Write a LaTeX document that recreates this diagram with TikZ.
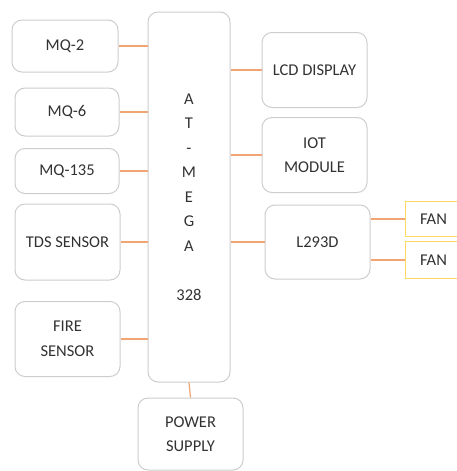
\documentclass[tikz,border=0pt]{standalone}
\usepackage{fontspec}
\setmainfont{Carlito}
\usepackage{xcolor}
\usepackage{tikz}
\usetikzlibrary{positioning}
\definecolor{boxgray}{RGB}{205, 205, 205}
\definecolor{wireorange}{RGB}{240, 165, 115}
\definecolor{fanyellow}{RGB}{255, 217, 102}
\definecolor{textgray}{RGB}{50, 50, 50}

\begin{document}
\begin{tikzpicture}[x=1pt, y=1pt,
  box/.style={draw=boxgray, line width=1pt, rounded corners=10pt, text=textgray, align=center, inner sep=0pt},
  fanbox/.style={draw=fanyellow, line width=1pt, text=textgray, inner sep=0pt},
  wire/.style={draw=wireorange, line width=1.2pt}]
  \useasboundingbox (0,0) rectangle (457,-471);
  \fontsize{16.5}{24.5}\selectfont

  % Sensores
  \node[box, minimum width=106pt, minimum height=52pt] (mq2) at (65,-46) {MQ-2};
  \node[box, minimum width=104pt, minimum height=48pt] (mq6) at (67,-112) {MQ-6};
  \node[box, minimum width=104pt, minimum height=45pt] (mq135) at (67,-171) {MQ-135};
  \node[box, minimum width=105pt, minimum height=76pt] (tds) at (67.5,-242) {TDS SENSOR};
  \node[box, minimum width=105pt, minimum height=75pt] (fire) at (67.5,-339) {FIRE\\SENSOR};

  % Microcontrolador y alimentacion
  \node[box, minimum width=82pt, minimum height=370pt] (mcu) at (189,-197) {A\\T\\-\\M\\E\\G\\A\\[24.5pt]328};
  \node[box, minimum width=105pt, minimum height=72pt] (power) at (190.5,-434) {POWER\\SUPPLY};

  % Salidas
  \node[box, minimum width=105pt, minimum height=75pt] (lcd) at (314.5,-70) {LCD DISPLAY};
  \node[box, minimum width=105pt, minimum height=75pt] (iot) at (314.5,-155) {IOT\\MODULE};
  \node[box, minimum width=105pt, minimum height=74pt] (l293) at (317.5,-242) {L293D};
  \node[fanbox, minimum width=57pt, minimum height=35pt] (fan1) at (433.5,-219) {FAN};
  \node[fanbox, minimum width=57pt, minimum height=37pt] (fan2) at (433.5,-260) {FAN};

  % Conexiones
  \foreach \s in {mq2, mq6, mq135, tds, fire} {
    \draw[wire] (\s.east) -- (\s.east -| mcu.west);
  }
  \foreach \m in {lcd, iot, l293} {
    \draw[wire] (mcu.east |- \m.west) -- (\m.west);
  }
  \foreach \f in {fan1, fan2} {
    \draw[wire] (l293.east |- \f.west) -- (\f.west);
  }
  \draw[wire] (mcu.south) -- (power.north);
\end{tikzpicture}
\end{document}
